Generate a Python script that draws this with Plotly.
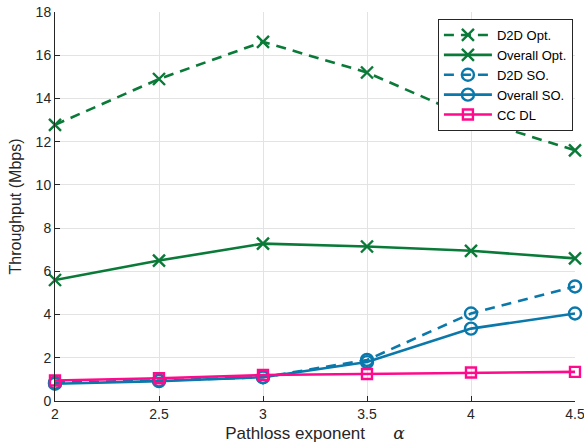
import plotly.graph_objects as go

alpha = [2, 2.5, 3, 3.5, 4, 4.5]
d2d_opt = [12.78, 14.9, 16.62, 15.2, 13.1, 11.6]
overall_opt = [5.6, 6.5, 7.28, 7.15, 6.95, 6.6]
d2d_so = [0.85, 0.95, 1.1, 1.9, 4.05, 5.3]
overall_so = [0.8, 0.92, 1.1, 1.8, 3.35, 4.05]
cc_dl = [0.95, 1.05, 1.2, 1.25, 1.32, 1.35]

green = "#0A7A38"
blue = "#0A78AA"
pink = "#FF0A8C"

fig = go.Figure()
def add(y, name, color, dash, symbol, size):
    fig.add_trace(go.Scatter(
        x=alpha, y=y, name=name, mode="lines+markers", cliponaxis=False,
        line=dict(color=color, width=2.6, dash=dash),
        marker=dict(symbol=symbol, size=size, color=color,
                    line=dict(color=color, width=2.4)),
    ))

add(d2d_opt, "D2D Opt.", green, "10px,7px", "x-thin", 12)
add(overall_opt, "Overall Opt.", green, "solid", "x-thin", 12)
add(d2d_so, "D2D SO.", blue, "10px,7px", "circle-open", 12)
add(overall_so, "Overall SO.", blue, "solid", "circle-open", 12)
add(cc_dl, "CC DL", pink, "solid", "square-open", 10)

fig.update_layout(
    width=584, height=445,
    margin=dict(l=55, r=9, t=12, b=44),
    paper_bgcolor="white", plot_bgcolor="white",
    font=dict(family="Liberation Sans, Arial, sans-serif", size=14, color="#262626"),
    legend=dict(x=0.996, y=0.982, xanchor="right", yanchor="top",
                bordercolor="#262626", borderwidth=1, bgcolor="white",
                font=dict(size=13, color="#000"), tracegroupgap=0,
                itemwidth=48),
    showlegend=True,
)
fig.update_xaxes(range=[2, 4.5], tickvals=[2, 2.5, 3, 3.5, 4, 4.5],
                 ticktext=["2", "2.5", "3", "3.5", "4", "4.5"],
                 ticklabeloverflow="allow", automargin=False,
                 showgrid=True, gridcolor="#E3E3E3", gridwidth=1,
                 showline=True, linecolor="#262626", linewidth=1,
                 ticks="inside", ticklen=5, tickcolor="#262626",
                 zeroline=False,
                 title=dict(text="Pathloss exponent &nbsp;&nbsp;&nbsp;&nbsp;&nbsp;<span style='font-family:DejaVu Serif, serif'><i>α</i></span>",
                            font=dict(size=17), standoff=6))
fig.update_yaxes(range=[0, 18], tickvals=list(range(0, 19, 2)),
                 automargin=False,
                 showgrid=True, gridcolor="#E3E3E3", gridwidth=1,
                 showline=True, linecolor="#262626", linewidth=1,
                 ticks="inside", ticklen=5, tickcolor="#262626",
                 zeroline=False,
                 title=dict(text="Throughput (Mbps)", font=dict(size=16), standoff=10))

fig.write_html("out.html", config={"displayModeBar": False},
               post_script="document.body.style.margin='0px';")
